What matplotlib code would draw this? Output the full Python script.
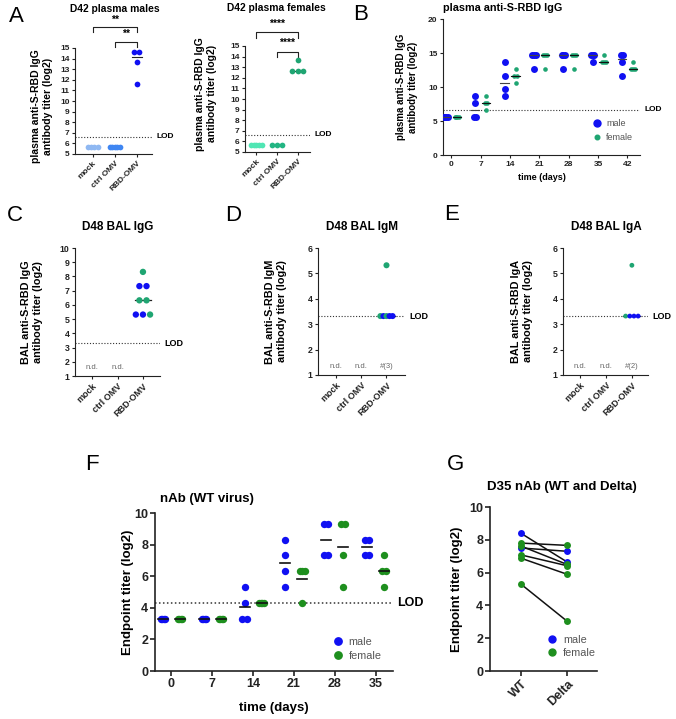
import numpy as np
import matplotlib.pyplot as plt
from matplotlib.lines import Line2D

plt.rcParams['font.family'] = ['Liberation Sans', 'DejaVu Sans']
plt.rcParams['font.weight'] = 'bold'
plt.rcParams['axes.labelweight'] = 'bold'
plt.rcParams['axes.titleweight'] = 'bold'

# ---------------- data ----------------
groups = ['mock', 'ctrl OMV', 'RBD-OMV']

# A: D42 plasma IgG (log2)
a_male_mock = [5.64, 5.64, 5.64, 5.64]
a_male_ctrl = [5.64, 5.64, 5.64, 5.64, 5.64]
a_male_rbd = [14.64, 14.64, 13.64, 11.64]
a_female_mock = [5.64, 5.64, 5.64, 5.64, 5.64]
a_female_ctrl = [5.64, 5.64, 5.64]
a_female_rbd = [13.64, 12.64, 12.64, 12.64]
lod_plasma = 6.64

# B: plasma IgG time course
b_days = [0, 7, 14, 21, 28, 35, 42]
b_male = [[5.64, 5.64, 5.64, 5.64],
          [8.64, 7.64, 5.64, 5.64],
          [13.64, 11.64, 9.64, 8.64],
          [14.64, 14.64, 14.64, 12.64],
          [14.64, 14.64, 14.64, 12.64],
          [14.64, 14.64, 14.64, 13.64],
          [14.64, 14.64, 13.64, 11.64]]
b_female = [[5.64, 5.64, 5.64, 5.64],
            [8.64, 7.64, 7.64, 6.64],
            [12.64, 11.64, 11.64, 10.64],
            [14.64, 14.64, 14.64, 12.64],
            [14.64, 14.64, 14.64, 12.64],
            [14.64, 13.64, 13.64, 13.64],
            [13.64, 12.64, 12.64, 12.64]]

# C-E: D48 BAL (RBD-OMV group only; mock / ctrl not detected)
lod_bal = 3.32
c_vals = [7.32, 7.32, 5.32, 5.32, 8.32, 6.32, 6.32, 5.32]
c_sex = ['m', 'm', 'm', 'm', 'f', 'f', 'f', 'f']
d_vals = [5.32, 3.32, 3.32, 3.32, 3.32, 3.32]
d_sex = ['f', 'f', 'm', 'f', 'm', 'm']
e_vals = [5.32, 3.32, 3.32, 3.32, 3.32]
e_sex = ['f', 'f', 'm', 'm', 'm']

# F: nAb (WT virus)
f_days = [0, 7, 14, 21, 28, 35]
f_male = [[3.32, 3.32, 3.32, 3.32],
          [3.32, 3.32, 3.32, 3.32],
          [5.32, 4.32, 3.32, 3.32],
          [8.32, 7.32, 6.32, 5.32],
          [9.32, 9.32, 7.32, 7.32],
          [8.32, 8.32, 7.32, 7.32]]
f_female = [[3.32, 3.32, 3.32, 3.32],
            [3.32, 3.32, 3.32, 3.32],
            [4.32, 4.32, 4.32, 4.32],
            [6.32, 6.32, 6.32, 4.32],
            [9.32, 9.32, 7.32, 5.32],
            [7.32, 6.32, 6.32, 5.32]]
lod_nab = 4.32

# G: D35 nAb WT vs Delta (paired)
g_labels = ['WT', 'Delta']
g_wt_m = [8.40, 7.50]
g_delta_m = [6.65, 7.30]
g_wt_f = [7.80, 7.62, 7.08, 6.88, 5.30]
g_delta_f = [7.66, 6.50, 6.42, 5.90, 3.04]

BLUE = '#1010f2'
TEAL = '#1fa572'
GREEN = '#1e8f1e'
DARK = '#222222'

W, H = 676, 719
fig = plt.figure(figsize=(W / 100, H / 100), dpi=100)


def px_axes(l, t, r, b):
    return fig.add_axes([l / W, 1 - b / H, (r - l) / W, (b - t) / H])


def ftext(x, y, s, **kw):
    fig.text(x / W, 1 - y / H, s, **kw)


def spread(vals, step, maxw):
    # horizontal offsets for points that share a value (Prism style scatter)
    vals = np.asarray(vals, float)
    offs = np.zeros(len(vals))
    for v in np.unique(vals):
        idx = np.flatnonzero(np.isclose(vals, v))
        n = len(idx)
        if n > 1:
            st = min(step, maxw / (n - 1))
            offs[idx] = (np.arange(n) - (n - 1) / 2) * st
    return offs


def style(ax, lw=0.8, fs=6, tl=2.5):
    for s in ['top', 'right']:
        ax.spines[s].set_visible(False)
    for s in ['left', 'bottom']:
        ax.spines[s].set_linewidth(lw)
        ax.spines[s].set_color(DARK)
    ax.tick_params(width=lw, length=tl, labelsize=fs, pad=1.5, colors=DARK)


def ylabel_at(ax, text, fs, x_right_px, l, r, yfrac=0.5):
    # x_right_px: pixel position of the label's right edge
    ax.set_ylabel(text, fontsize=fs)
    ax.yaxis.set_label_coords((x_right_px - l) / (r - l), yfrac)


def lod(ax, y, fs, lw=0.8):
    ax.axhline(y, color='#333333', ls=(0, (1, 1.6)), lw=lw, zorder=1)
    ax.annotate('LOD', xy=(1, y), xycoords=('axes fraction', 'data'),
                xytext=(3, 0), textcoords='offset points', va='center', fontsize=fs)


def cat_ticks(ax, labels, fs):
    ax.set_xticks(range(len(labels)))
    ax.set_xticklabels(labels, rotation=45, ha='right', rotation_mode='anchor', fontsize=fs)


def bracket(ax, x0, x1, y, drop, stars, ytxt, fs):
    ax.plot([x0, x0, x1, x1], [y - drop, y, y, y - drop], color=DARK, lw=0.8, clip_on=False)
    ax.text((x0 + x1) / 2, ytxt, stars, ha='center', va='center', fontsize=fs)


def legend(ax, handles, x, y, fs, spacing):
    ax.legend(handles=handles, loc='center left', bbox_to_anchor=(x, y), frameon=False,
              handlelength=1.0, handletextpad=0.5, labelspacing=spacing, borderpad=0,
              borderaxespad=0, prop={'size': fs, 'weight': 'normal'}, labelcolor='#555555')


# ---------------- A: males ----------------
ax = px_axes(75, 48, 152, 154)
style(ax)
cols = ['#8fb8f2', '#3f86f2', BLUE]
for i, vals in enumerate([a_male_mock, a_male_ctrl, a_male_rbd]):
    ax.scatter(i + spread(vals, 0.24, 0.45), vals, s=17, color=cols[i], lw=0, zorder=3, clip_on=False)
    m = np.median(vals)
    ax.plot([i - 0.23, i + 0.23], [m, m], color=DARK, lw=0.8, zorder=2)
ax.set_xlim(-0.8, 2.7)
ax.set_ylim(5, 15)
ax.set_yticks(range(5, 16))
cat_ticks(ax, groups, 6)
lod(ax, lod_plasma, 6)
bracket(ax, 0, 2, 16.98, 0.5, '**', 17.7, 7.5)
bracket(ax, 1, 2, 15.57, 0.5, '**', 16.3, 7.5)
ylabel_at(ax, 'plasma anti-S-RBD IgG\nantibody titer (log2)', 7.5, 53, 75, 152, 0.45)
ftext(115, 9, 'D42 plasma males', ha='center', va='center', fontsize=7.4)

# ---------------- A: females ----------------
ax = px_axes(245, 46, 310, 152)
style(ax)
cols = ['#50e6b4', '#22b583', TEAL]
for i, vals in enumerate([a_female_mock, a_female_ctrl, a_female_rbd]):
    ax.scatter(i + spread(vals, 0.26, 0.5), vals, s=17, color=cols[i], lw=0, zorder=3, clip_on=False)
    m = np.median(vals)
    ax.plot([i - 0.25, i + 0.25], [m, m], color=DARK, lw=0.8, zorder=2)
ax.set_xlim(-0.55, 2.6)
ax.set_ylim(5, 15)
ax.set_yticks(range(5, 16))
cat_ticks(ax, groups, 6)
lod(ax, lod_plasma, 6)
bracket(ax, 0, 2, 16.3, 0.5, '****', 17.05, 7.5)
bracket(ax, 1, 2, 14.43, 0.45, '****', 15.28, 7.5)
ylabel_at(ax, 'plasma anti-S-RBD IgG\nantibody titer (log2)', 7.5, 217, 245, 310, 0.55)
ftext(276, 8, 'D42 plasma females', ha='center', va='center', fontsize=7.4)

# ---------------- B ----------------
ax = px_axes(443, 19, 640, 155)
style(ax)
for d, mv, fv in zip(b_days, b_male, b_female):
    xm, xf = d - 1.3, d + 1.3
    ax.scatter(xm + spread(mv, 0.45, 0.75), mv, s=25, color=BLUE, lw=0, zorder=3)
    ax.scatter(xf + spread(fv, 0.5, 0.95), fv, s=11, color=TEAL, lw=0, zorder=3)
    ax.plot([xm - 1, xm + 1], [np.median(mv)] * 2, color='#444444', lw=0.8, zorder=4)
    ax.plot([xf - 1, xf + 1], [np.median(fv)] * 2, color='#111111', lw=0.8, zorder=4)
ax.set_xlim(-2.0, 45.0)
ax.set_ylim(0, 20)
ax.set_yticks([0, 5, 10, 15, 20])
ax.set_xticks(b_days)
lod(ax, lod_plasma, 6)
ax.set_xlabel('time (days)', fontsize=6.5, labelpad=4)
ylabel_at(ax, 'plasma anti-S-RBD IgG\nantibody titer (log2)', 7, 418, 443, 640)
ax.set_title('plasma anti-S-RBD IgG', loc='left', fontsize=7.8, pad=6)
legend(ax, [Line2D([], [], ls='', marker='o', ms=5, color=BLUE, label='male'),
            Line2D([], [], ls='', marker='o', ms=3.3, color=TEAL, label='female')],
       0.76, 0.18, 6.5, 0.55)


# ---------------- C, D, E ----------------
def bal_panel(l, t, r, b, vals, sex, ymax, step, maxw, s, xlim, title, tcx, ylab, ylx, note):
    ax = px_axes(l, t, r, b)
    style(ax, fs=6.3)
    x = 2 + spread(vals, step, maxw)
    cols = [BLUE if k == 'm' else TEAL for k in sex]
    ax.scatter(x, vals, s=s, c=cols, lw=0, zorder=3)
    m = np.median(vals)
    ax.plot([2 - 0.33, 2 + 0.33], [m, m], color=DARK, lw=0.9, zorder=2)
    ax.set_xlim(*xlim)
    ax.set_ylim(1, ymax)
    ax.set_yticks(range(1, ymax + 1))
    cat_ticks(ax, groups, 6.5)
    lod(ax, lod_bal, 6.5)
    tr = ax.get_xaxis_transform()
    for i, txt in enumerate(['n.d.', 'n.d.', note]):
        if txt:
            ax.text(i, 0.07, txt, transform=tr, ha='center', va='center', fontsize=5.5,
                    fontweight='normal', color='#666666')
    ylabel_at(ax, ylab, 7.8, ylx, l, r)
    ftext(tcx, 227, title, ha='center', va='center', fontsize=8.5)
    return ax


bal_panel(75, 248, 160, 376, c_vals, c_sex, 10, 0.28, 0.6, 21, (-0.67, 2.67),
          'D48 BAL IgG', 118, 'BAL anti-S-RBD IgG\nantibody titer (log2)', 43, '')
bal_panel(318, 248, 405, 375, d_vals, d_sex, 6, 0.12, 0.5, 19, (-0.7, 2.73),
          'D48 BAL IgM', 362, 'BAL anti-S-RBD IgM\nantibody titer (log2)', 287, '#(3)')
bal_panel(563, 248, 648, 375, e_vals, e_sex, 6, 0.16, 0.5, 12, (-0.65, 2.62),
          'D48 BAL IgA', 606, 'BAL anti-S-RBD IgA\nantibody titer (log2)', 533, '#(2)')

# ---------------- F ----------------
ax = px_axes(155, 513, 393, 671)
style(ax, lw=1.2, fs=9, tl=3.5)
for d, mv, fv in zip(f_days, f_male, f_female):
    xm, xf = d - 1.46, d + 1.46
    ax.scatter(xm + spread(mv, 0.76, 0.76), mv, s=28, color=BLUE, lw=0, zorder=3)
    ax.scatter(xf + spread(fv, 0.76, 0.76), fv, s=28, color=GREEN, lw=0, zorder=3)
    ax.plot([xm - 0.85, xm + 0.85], [np.mean(mv)] * 2, color='#111111', lw=1.2, zorder=4)
    ax.plot([xf - 0.85, xf + 0.85], [np.mean(fv)] * 2, color='#111111', lw=1.2, zorder=4)
ax.set_xlim(-2.83, 38.0)
ax.set_ylim(0, 10)
ax.set_yticks(range(0, 11, 2))
ax.set_xticks(f_days)
lod(ax, lod_nab, 9, lw=1.1)
ax.set_xlabel('time (days)', fontsize=9.5, labelpad=9)
ylabel_at(ax, 'Endpoint titer (log2)', 9.5, 134, 155, 393)
ax.set_title('nAb (WT virus)', loc='left', fontsize=9.5, pad=8, x=0.02)
legend(ax, [Line2D([], [], ls='', marker='o', ms=5.3, color=BLUE, label='male'),
            Line2D([], [], ls='', marker='o', ms=5.3, color=GREEN, label='female')],
       0.745, 0.14, 7.8, 0.3)

# ---------------- G ----------------
ax = px_axes(490, 507, 597, 671)
style(ax, lw=1.2, fs=9, tl=3.5)
for wt, de, c in [(g_wt_m, g_delta_m, BLUE), (g_wt_f, g_delta_f, GREEN)]:
    for a, b in zip(wt, de):
        ax.plot([0, 1], [a, b], color='#111111', lw=1.1, zorder=2)
    ax.scatter(np.zeros(len(wt)), wt, s=25, color=c, lw=0, zorder=3)
    ax.scatter(np.ones(len(de)), de, s=25, color=c, lw=0, zorder=3)
ax.set_xlim(-0.67, 1.65)
ax.set_ylim(0, 10)
ax.set_yticks(range(0, 11, 2))
cat_ticks(ax, g_labels, 9)
ylabel_at(ax, 'Endpoint titer (log2)', 9.5, 463, 490, 597)
ftext(562, 487, 'D35 nAb (WT and Delta)', ha='center', va='center', fontsize=9.5)
legend(ax, [Line2D([], [], ls='', marker='o', ms=5, color=BLUE, label='male'),
            Line2D([], [], ls='', marker='o', ms=5, color=GREEN, label='female')],
       0.53, 0.15, 7.8, 0.3)

# panel letters
for x, y, s in [(16, 16, 'A'), (361, 15, 'B'), (15, 215, 'C'), (233, 215, 'D'),
                (452, 214, 'E'), (92, 465, 'F'), (455, 465, 'G')]:
    ftext(x, y, s, ha='center', va='center', fontsize=16, fontweight='normal')

fig.savefig('out.png', dpi=100)
